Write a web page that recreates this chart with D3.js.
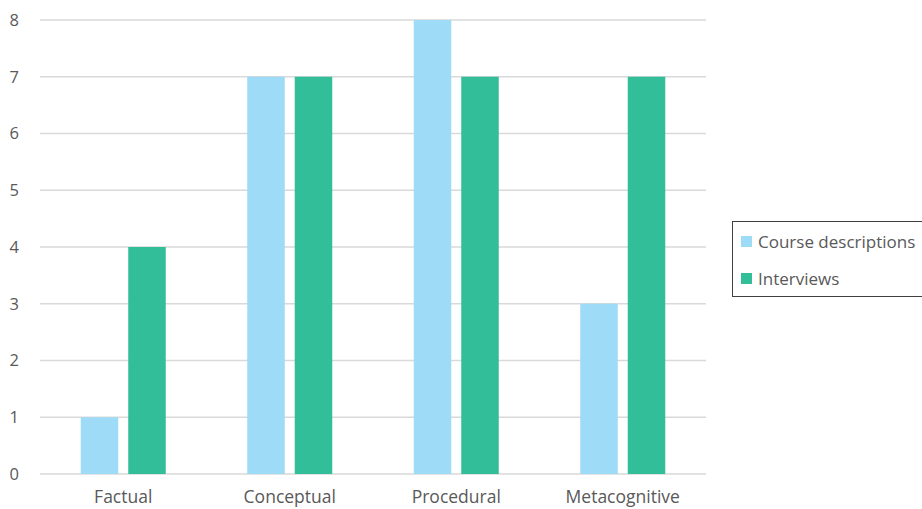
<!DOCTYPE html>
<html><head><meta charset="utf-8">
<script src="https://cdn.jsdelivr.net/npm/d3@7"></script>
<style>body{margin:0;background:#fff}svg{display:block}</style>
</head><body><svg id="c" width="922" height="509"></svg>
<script>
const categories = ["Factual","Conceptual","Procedural","Metacognitive"];
const seriesNames = ["Course descriptions","Interviews"];
const courseDescriptions = [1,7,8,3];
const interviews = [4,7,7,7];
const yTicks = [0,1,2,3,4,5,6,7,8];
const colors = ["#9ddbf7","#33be9a"];

const svg = d3.select("#c");
const font = "'Open Sans', sans-serif";
const m = {left:40, right:706, top:20, bottom:474};
const x = d3.scaleBand().domain(categories).range([m.left, m.right]).paddingInner(0).paddingOuter(0);
const x1 = d3.scaleBand().domain(seriesNames).range([0, x.bandwidth()]).paddingInner(0.21).paddingOuter(0.858);
const y = d3.scaleLinear().domain([0,8]).range([m.bottom, m.top]);

svg.append("g").selectAll("line").data(yTicks).join("line")
  .attr("x1", m.left).attr("x2", m.right)
  .attr("y1", d=>y(d)).attr("y2", d=>y(d))
  .attr("stroke", "#d9d9d9").attr("stroke-width", 1.3);

svg.append("g").selectAll("text").data(yTicks).join("text")
  .attr("x", 19).attr("y", d=>y(d)).attr("dy","0.35em")
  .attr("text-anchor","end").attr("font-family",font).attr("font-size",16.5)
  .attr("fill","#595959").text(d=>d);

const data = categories.map((c,i)=>({cat:c, vals:[courseDescriptions[i], interviews[i]]}));
const g = svg.append("g").selectAll("g").data(data).join("g")
  .attr("transform", d=>`translate(${x(d.cat)},0)`);
g.selectAll("rect").data(d=>d.vals.map((v,j)=>({s:seriesNames[j], v, j}))).join("rect")
  .attr("x", d=>x1(d.s)).attr("width", x1.bandwidth())
  .attr("y", d=>y(d.v)).attr("height", d=>y(0)-y(d.v))
  .attr("fill", d=>colors[d.j]);

svg.append("g").selectAll("text").data(categories).join("text")
  .attr("x", d=>x(d)+x.bandwidth()/2).attr("y", 503)
  .attr("text-anchor","middle").attr("font-family",font).attr("font-size",17.5)
  .attr("fill","#595959").text(d=>d);

const lg = svg.append("g");
lg.append("rect").attr("x",732.5).attr("y",221.5).attr("width",195).attr("height",75)
  .attr("fill","#fff").attr("stroke","#404040").attr("stroke-width",1);
seriesNames.forEach((s,i)=>{
  lg.append("rect").attr("x",741).attr("y",236+i*37).attr("width",11).attr("height",11).attr("fill",colors[i]);
  lg.append("text").attr("x",758).attr("y",242+i*37).attr("dy","0.35em")
    .attr("font-family",font).attr("font-size",17).attr("fill","#595959").text(s);
});
</script></body></html>
